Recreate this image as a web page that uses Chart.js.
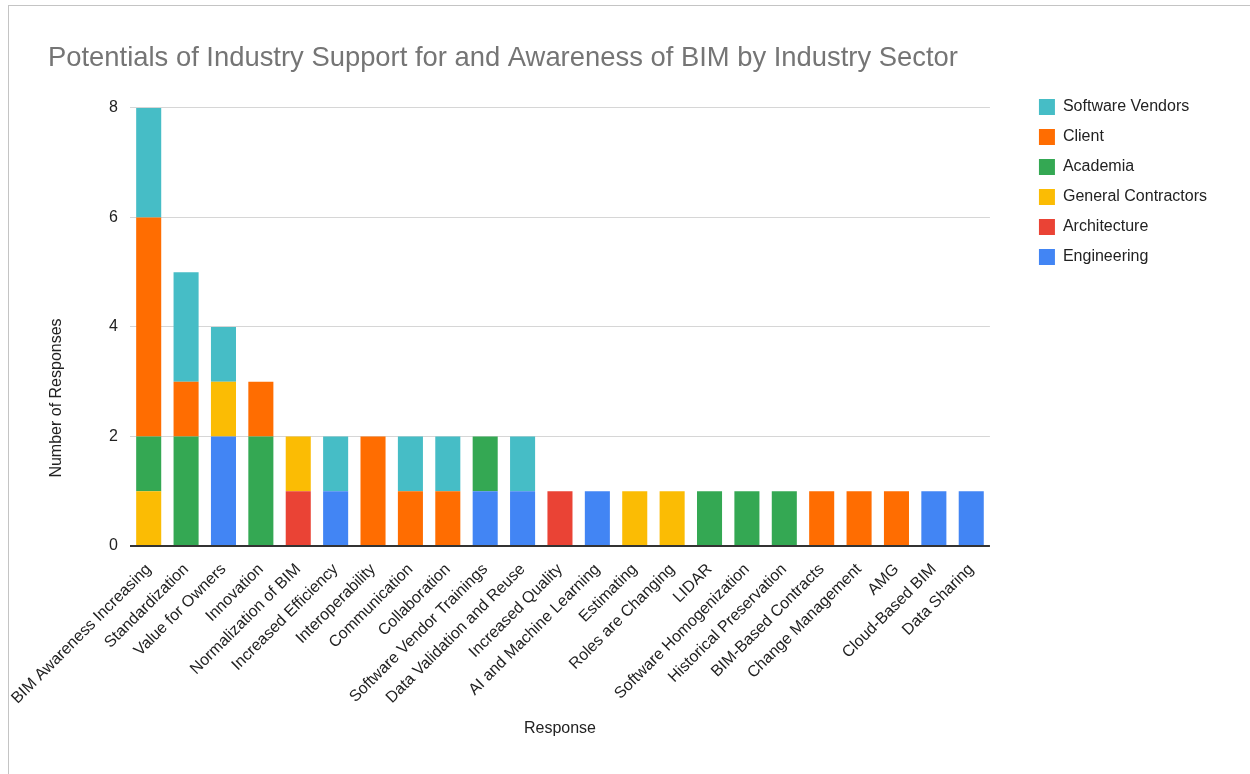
<!DOCTYPE html>
<html>
<head>
<meta charset="utf-8">
<script src="https://cdn.jsdelivr.net/npm/chart.js@4.4.1/dist/chart.umd.min.js"></script>
<style>
  html, body { margin: 0; padding: 0; background: #fff; }
  #frame { position: absolute; left: 8px; top: 5px; width: 1242px; height: 769px;
           border-top: 1px solid #c4c4c4; border-left: 1px solid #c4c4c4; }
  #chart { position: absolute; left: 0; top: 0; }
</style>
</head>
<body>
<div id="frame"></div>
<canvas id="chart" width="1250" height="774"></canvas>
<script>
const categories = [
    'BIM Awareness Increasing', 'Standardization', 'Value for Owners', 'Innovation',
    'Normalization of BIM', 'Increased Efficiency', 'Interoperability', 'Communication',
    'Collaboration', 'Software Vendor Trainings', 'Data Validation and Reuse', 'Increased Quality',
    'AI and Machine Learning', 'Estimating', 'Roles are Changing', 'LIDAR',
    'Software Homogenization', 'Historical Preservation', 'BIM-Based Contracts', 'Change Management',
    'AMG', 'Cloud-Based BIM', 'Data Sharing'
];
const engineering        = [0, 0, 2, 0, 0, 1, 0, 0, 0, 1, 1, 0, 1, 0, 0, 0, 0, 0, 0, 0, 0, 1, 1];
const architecture       = [0, 0, 0, 0, 1, 0, 0, 0, 0, 0, 0, 1, 0, 0, 0, 0, 0, 0, 0, 0, 0, 0, 0];
const generalContractors = [1, 0, 1, 0, 1, 0, 0, 0, 0, 0, 0, 0, 0, 1, 1, 0, 0, 0, 0, 0, 0, 0, 0];
const academia           = [1, 2, 0, 2, 0, 0, 0, 0, 0, 1, 0, 0, 0, 0, 0, 1, 1, 1, 0, 0, 0, 0, 0];
const client             = [4, 1, 0, 1, 0, 0, 2, 1, 1, 0, 0, 0, 0, 0, 0, 0, 0, 0, 1, 1, 1, 0, 0];
const softwareVendors    = [2, 2, 1, 0, 0, 1, 0, 1, 1, 0, 1, 0, 0, 0, 0, 0, 0, 0, 0, 0, 0, 0, 0];
const yTicks = [0, 2, 4, 6, 8];

const FONT = "'Liberation Sans', Arial, sans-serif";

// y axis title sits lower than the plot centre in the original, so draw it by hand
const yTitlePlugin = {
    id: 'yTitle',
    afterLayout(chart) {
        // leave a wider gap between the plot and the legend swatches
        chart.legend.left += 35;
        chart.legend.right += 35;
    },
    afterDraw(chart) {
        const c = chart.ctx;
        c.save();
        c.font = '16px ' + FONT;
        c.fillStyle = '#222';
        c.textAlign = 'center';
        c.textBaseline = 'middle';
        c.translate(57, 398);
        c.rotate(-Math.PI / 2);
        c.fillText('Number of Responses', 0, 0);
        c.restore();
    }
};

const ctx = document.getElementById('chart').getContext('2d');
const chart = new Chart(ctx, {
    type: 'bar',
    data: {
        labels: categories,
        datasets: [
            { label: 'Engineering', data: engineering, backgroundColor: '#4285F4' },
            { label: 'Architecture', data: architecture, backgroundColor: '#EA4335' },
            { label: 'General Contractors', data: generalContractors, backgroundColor: '#FBBC04' },
            { label: 'Academia', data: academia, backgroundColor: '#34A853' },
            { label: 'Client', data: client, backgroundColor: '#FF6D01' },
            { label: 'Software Vendors', data: softwareVendors, backgroundColor: '#46BDC6' }
        ]
    },
    options: {
        responsive: false,
        animation: false,
        datasets: {
            bar: { categoryPercentage: 0.67, barPercentage: 1.0 }
        },
        layout: {
            padding: { left: 48, right: 68, top: 0, bottom: 32 }
        },
        scales: {
            x: {
                stacked: true,
                grid: { display: false },
                border: { display: false },
                ticks: {
                    autoSkip: false,
                    maxRotation: 45,
                    minRotation: 45,
                    padding: 6,
                    color: '#222',
                    font: { family: FONT, size: 16 }
                },
                title: {
                    display: true,
                    text: 'Response',
                    color: '#222',
                    font: { family: FONT, size: 16 }
                },
                afterFit: function (scale) { scale.height = 196; }
            },
            y: {
                stacked: true,
                min: 0,
                max: 8,
                afterBuildTicks: function (scale) {
                    scale.ticks = yTicks.map(v => ({ value: v }));
                },
                border: { display: false },
                grid: {
                    drawTicks: false,
                    color: function (context) {
                        return context.tick && context.tick.value === 0 ? '#333' : '#d6d6d6';
                    },
                    lineWidth: function (context) {
                        return context.tick && context.tick.value === 0 ? 2 : 1;
                    }
                },
                ticks: {
                    padding: 12,
                    color: '#222',
                    font: { family: FONT, size: 16 }
                },
                afterFit: function (scale) { scale.width = 82; }
            }
        },
        plugins: {
            title: {
                display: true,
                text: 'Potentials of Industry Support for and Awareness of BIM by Industry Sector',
                align: 'start',
                color: '#757575',
                font: { family: FONT, size: 27.4, weight: 'normal' },
                padding: { top: 42, bottom: 33 }
            },
            legend: {
                display: true,
                position: 'right',
                align: 'start',
                reverse: true,
                title: {
                    display: true,
                    text: ' ',
                    font: { size: 10 },
                    padding: { top: 73, bottom: 0 }
                },
                labels: {
                    boxWidth: 16,
                    boxHeight: 16,
                    padding: 14,
                    color: '#222',
                    font: { family: FONT, size: 16 }
                }
            },
            tooltip: { enabled: false }
        }
    },
    plugins: [yTitlePlugin]
});
</script>
</body>
</html>
